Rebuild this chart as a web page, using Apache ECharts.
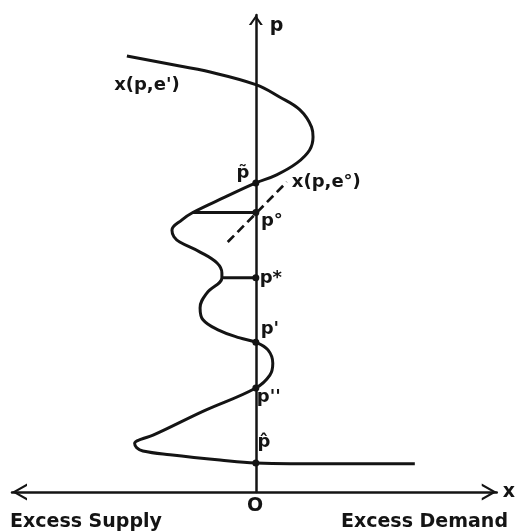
<!DOCTYPE html>
<html><head><meta charset="utf-8">
<script src="https://cdn.jsdelivr.net/npm/echarts@6/dist/echarts.min.js"></script>
<style>html,body{margin:0;padding:0;background:#fff}#c{width:518px;height:532px}</style>
</head><body><div id="c"></div>
<script>
// Excess demand curve x(p, e') : x values (excess demand) and p values (price)
const curveX = [-26.6,-15.7,-10.5,0,4.9,9.1,11.5,11.8,11.1,8.5,4.3,0,-6.4,-13.0,-15.3,-17.3,-16.9,-15.7,-11.5,-8.0,-7.0,-7.0,-10.1,-11.5,-10.9,-7.8,-3.3,0,2.5,3.5,2.9,0,-10.7,-21.2,-23.6,-25.0,-24.6,-23.3,-17.7,-7.4,0,15.9,32.8];
const curveP = [91.4,89.3,88.3,85.4,82.8,80.1,76.5,74.4,71.7,69.0,66.5,64.8,61.8,58.6,57.0,54.9,53.5,52.4,50.3,48.0,45.9,44.9,41.7,38.6,36.1,34.0,32.3,31.4,29.8,27.0,24.5,21.8,17.0,11.9,11.1,10.2,9.3,8.6,7.8,6.7,6.1,5.9,5.9];
// Dashed curve x(p, e°)
const dashX = [-5.8, 6.4];
const dashP = [52.4, 65.0];
// Equilibrium prices on the p axis
const dotNames = ['p\u0303', 'p°', 'p*', "p'", "p''", 'p\u0302'];
const dotP = [64.8, 58.6, 44.9, 31.4, 21.8, 6.1];
// Horizontal ties from the curve to p° and p*
const tieX = [-13.0, -7.0];
const tieP = [58.6, 44.9];
const curveNames = ["x(p,e')", 'x(p,e°)'];
const axisNames = ['x', 'p'];
const footTexts = ['Excess Supply', 'O', 'Excess Demand'];

const INK = '#141414';
const FONT = 'DejaVu Sans';
const ARROW_X = 'path://M8.5,0 L17,15 L14.6,15 L8.5,4.3 L2.4,15 L0,15 Z';
const ARROW_P = 'path://M7,0 L14,10 L11.5,10 L7,3.6 L2.5,10 L0,10 Z';
const dotOffsets = [[-13,-10],[16,9],[15,1],[14,-13],[13,9],[8,-21]];

const chart = echarts.init(document.getElementById('c'), null, {renderer:'canvas'});
const txt = {color: INK, fontFamily: FONT, fontWeight: 'bold', fontSize: 18, opacity:1};

const series = [
  {type:'line', data: curveX.map((x,i)=>[x, curveP[i]]), smooth:0.4, showSymbol:false,
   lineStyle:{color:INK, width:3}, z:3},
  {type:'line', data: [[dashX[0],dashP[0]],[dashX[1],dashP[1]]], showSymbol:false,
   lineStyle:{color:INK, width:2.7, type:[9,5]}, z:3}
];
tieX.forEach((x,i)=>{
  series.push({type:'line', data:[[x, tieP[i]],[0, tieP[i]]], showSymbol:false,
    lineStyle:{color:INK, width:3}, z:3});
});
series.push({type:'scatter', symbolSize:7, itemStyle:{color:INK, opacity:1}, z:5,
  data: dotP.map((p,i)=>({value:[0,p], name:dotNames[i],
    label:{show:true, position:'inside', offset:dotOffsets[i], formatter:'{b}', ...txt}}))});
series.push({type:'scatter', symbolSize:0, z:5, silent:true, itemStyle:{color:INK, opacity:1},
  data:[
    {value:[curveX[0],curveP[0]], name:curveNames[0], label:{show:true, position:'inside', offset:[20,29], formatter:'{b}', ...txt}},
    {value:[dashX[1],dashP[1]], name:curveNames[1], label:{show:true, position:'right', distance:5, formatter:'{b}', ...txt}}
  ]});

chart.setOption({
  animation:false,
  backgroundColor:'#fff',
  grid:{left:12, right:21, top:15, bottom:40},
  xAxis:{type:'value', min:-50.3, max:49.7, splitLine:{show:false}, axisTick:{show:false}, axisLabel:{show:false},
    axisLine:{onZero:true, lineStyle:{color:INK, width:2.5}, symbol:[ARROW_X, ARROW_X], symbolSize:[17,15], symbolOffset:[7.5,-7.5]},
    name:axisNames[0], nameLocation:'end', nameGap:6, nameTextStyle:{...txt, fontSize:19, align:'left', verticalAlign:'middle'}},
  yAxis:{type:'value', min:0, max:100, splitLine:{show:false}, axisTick:{show:false}, axisLabel:{show:false},
    axisLine:{onZero:true, lineStyle:{color:INK, width:2.5}, symbol:['none', ARROW_P], symbolSize:[14,10], symbolOffset:[0,-5]},
    name:axisNames[1], nameLocation:'end', nameGap:-11, nameTextStyle:{...txt, fontSize:19, align:'left', verticalAlign:'middle', padding:[0,0,0,14]}},
  graphic:[
    {type:'text', left:10, top:513, style:{text:footTexts[0], font:'bold 19px "DejaVu Sans"', fill:INK}},
    {type:'text', left:247, top:497, style:{text:footTexts[1], font:'bold 19px "DejaVu Sans"', fill:INK}},
    {type:'text', right:10, top:513, style:{text:footTexts[2], font:'bold 19px "DejaVu Sans"', fill:INK}}
  ],
  series: series
});
</script>
</body></html>
